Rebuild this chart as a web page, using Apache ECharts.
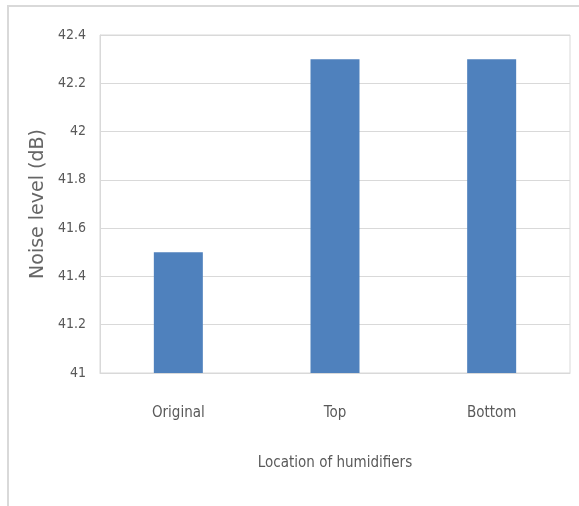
<!DOCTYPE html>
<html>
<head>
<meta charset="utf-8">
<script src="https://cdn.jsdelivr.net/npm/echarts@6/dist/echarts.min.js"></script>
<style>html,body{margin:0;padding:0;background:#fff;}#c{width:579px;height:506px;}</style>
</head>
<body>
<div id="c"></div>
<script>
const categories = ['Original', 'Top', 'Bottom'];
const noiseLevel = [41.5, 42.3, 42.3];
const yMin = 41, yMax = 42.4, yStep = 0.2;

const narrow = "'Liberation Sans Narrow', 'DejaVu Sans Condensed', sans-serif";
const chart = echarts.init(document.getElementById('c'), null, {renderer: 'canvas'});
chart.setOption({
  animation: false,
  backgroundColor: '#fff',
  graphic: [{
    type: 'rect', z: -1,
    shape: {x: 8, y: 6, width: 600, height: 560},
    style: {fill: 'none', stroke: '#d9d9d9', lineWidth: 2}
  }],
  grid: {left: 100, right: 9, top: 35, bottom: 133, show: true, borderColor: '#d9d9d9', borderWidth: 1},
  xAxis: {
    type: 'category',
    data: categories,
    name: 'Location of humidifiers',
    nameLocation: 'middle',
    nameGap: 83,
    nameTextStyle: {color: '#595959', fontSize: 15, fontFamily: narrow},
    axisLine: {lineStyle: {color: '#d9d9d9'}},
    axisTick: {show: false},
    axisLabel: {color: '#595959', fontSize: 15, fontFamily: narrow, margin: 33}
  },
  yAxis: {
    type: 'value',
    min: yMin, max: yMax, interval: yStep,
    name: 'Noise level (dB)',
    nameLocation: 'middle',
    nameGap: 45,
    nameTextStyle: {color: '#666666', fontSize: 19, fontFamily: 'DejaVu Sans'},
    axisLine: {show: true, lineStyle: {color: '#d9d9d9'}},
    axisTick: {show: false},
    splitLine: {lineStyle: {color: '#d9d9d9'}},
    axisLabel: {color: '#595959', fontSize: 14, fontFamily: narrow, margin: 14,
      formatter: v => String(+v.toFixed(1))}
  },
  series: [{
    type: 'bar',
    data: noiseLevel,
    barWidth: 49,
    itemStyle: {color: '#4F81BD'}
  }]
});
</script>
</body>
</html>
